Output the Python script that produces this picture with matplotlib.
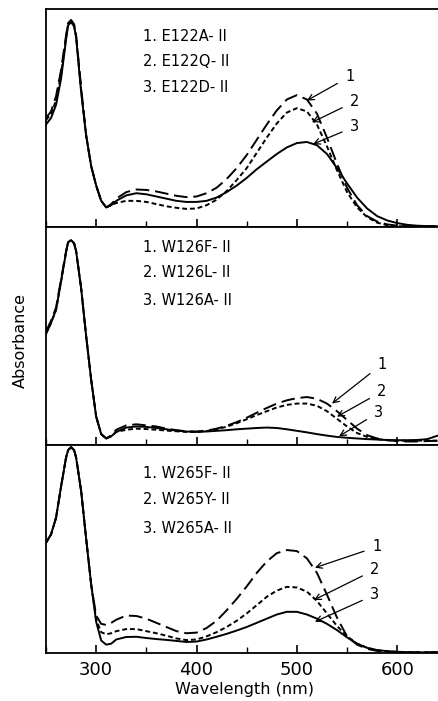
import matplotlib
matplotlib.use("Agg")
import matplotlib.pyplot as plt
from matplotlib.ticker import MultipleLocator

# wavelength grid (nm)
wl = [250, 255, 260, 265, 270, 272, 275, 278, 280, 285, 290, 295, 300, 305, 310, 315, 320,
      330, 340, 350, 360, 370, 380, 390, 400, 410, 420, 430, 440, 450, 460, 470,
      480, 490, 500, 510, 520, 530, 540, 550, 560, 570, 580, 590, 600, 610, 620,
      630, 645]

# panel 1: E122 mutants
e122a = [0.50, 0.53, 0.60, 0.72, 0.88, 0.935, 0.95, 0.93, 0.88, 0.64, 0.42, 0.28, 0.19, 0.12, 0.09, 0.105, 0.13,
         0.16, 0.172, 0.17, 0.163, 0.153, 0.143, 0.137, 0.14, 0.155, 0.18, 0.22, 0.27, 0.33, 0.40, 0.47,
         0.535, 0.585, 0.605, 0.585, 0.52, 0.41, 0.29, 0.18, 0.10, 0.05, 0.025, 0.012, 0.006, 0.004, 0.003,
         0.003, 0.003]
e122q = [0.49, 0.52, 0.58, 0.70, 0.87, 0.93, 0.945, 0.925, 0.875, 0.63, 0.42, 0.28, 0.19, 0.12, 0.09, 0.10, 0.11,
         0.12, 0.12, 0.115, 0.105, 0.095, 0.088, 0.083, 0.085, 0.10, 0.125, 0.165, 0.215, 0.27, 0.34, 0.41,
         0.475, 0.525, 0.545, 0.53, 0.47, 0.37, 0.26, 0.16, 0.09, 0.045, 0.02, 0.008, 0.004, 0.003, 0.003,
         0.003, 0.003]
e122d = [0.47, 0.50, 0.56, 0.68, 0.86, 0.925, 0.94, 0.92, 0.87, 0.62, 0.42, 0.28, 0.19, 0.12, 0.09, 0.10, 0.12,
         0.145, 0.155, 0.15, 0.14, 0.13, 0.12, 0.115, 0.115, 0.12, 0.135, 0.16, 0.19, 0.225, 0.265, 0.30,
         0.335, 0.365, 0.385, 0.39, 0.375, 0.335, 0.27, 0.20, 0.135, 0.085, 0.05, 0.03, 0.018, 0.01, 0.006,
         0.004, 0.003]

# panel 2: W126 mutants
w126f = [0.52, 0.57, 0.63, 0.76, 0.89, 0.93, 0.94, 0.925, 0.89, 0.72, 0.50, 0.30, 0.13, 0.05, 0.03, 0.045, 0.07,
         0.09, 0.095, 0.09, 0.085, 0.075, 0.068, 0.063, 0.062, 0.066, 0.075, 0.088, 0.105, 0.125, 0.148, 0.17,
         0.19, 0.205, 0.215, 0.22, 0.212, 0.19, 0.155, 0.115, 0.075, 0.045, 0.03, 0.022, 0.018, 0.016, 0.016,
         0.018, 0.02]
w126l = [0.51, 0.56, 0.62, 0.75, 0.885, 0.93, 0.94, 0.925, 0.89, 0.72, 0.50, 0.30, 0.13, 0.05, 0.03, 0.04, 0.06,
         0.07, 0.075, 0.073, 0.07, 0.066, 0.063, 0.06, 0.06, 0.064, 0.072, 0.084, 0.10, 0.118, 0.137, 0.155,
         0.172, 0.184, 0.19, 0.19, 0.18, 0.155, 0.12, 0.085, 0.055, 0.037, 0.027, 0.022, 0.02, 0.02, 0.02,
         0.02, 0.02]
w126a = [0.51, 0.56, 0.62, 0.75, 0.885, 0.93, 0.94, 0.925, 0.89, 0.72, 0.50, 0.30, 0.13, 0.05, 0.03, 0.04, 0.06,
         0.08, 0.085, 0.083, 0.078, 0.072, 0.066, 0.062, 0.06, 0.062, 0.065, 0.068, 0.072, 0.075, 0.078, 0.08,
         0.078, 0.072, 0.065, 0.058, 0.05, 0.043, 0.037, 0.033, 0.03, 0.027, 0.025, 0.023, 0.022, 0.022, 0.023,
         0.027, 0.05]

# panel 3: W265 mutants
w265f = [0.53, 0.57, 0.65, 0.80, 0.94, 0.975, 0.99, 0.975, 0.94, 0.78, 0.55, 0.33, 0.18, 0.14, 0.135, 0.145, 0.16,
         0.18, 0.178, 0.165, 0.145, 0.125, 0.105, 0.095, 0.098, 0.12, 0.155, 0.205, 0.26, 0.32, 0.385, 0.44,
         0.48, 0.495, 0.49, 0.455, 0.385, 0.28, 0.17, 0.08, 0.04, 0.02, 0.01, 0.006, 0.004, 0.003, 0.003,
         0.003, 0.003]
w265y = [0.53, 0.57, 0.65, 0.80, 0.94, 0.975, 0.99, 0.975, 0.94, 0.78, 0.55, 0.33, 0.16, 0.10, 0.09, 0.095, 0.105,
         0.115, 0.115, 0.105, 0.095, 0.083, 0.07, 0.062, 0.065, 0.08, 0.10, 0.125, 0.155, 0.19, 0.23, 0.27,
         0.30, 0.318, 0.315, 0.295, 0.25, 0.19, 0.13, 0.08, 0.045, 0.025, 0.013, 0.008, 0.005, 0.004, 0.003,
         0.003, 0.003]
w265a = [0.53, 0.57, 0.65, 0.80, 0.94, 0.975, 0.99, 0.975, 0.94, 0.78, 0.55, 0.33, 0.15, 0.06, 0.04, 0.045, 0.065,
         0.077, 0.078, 0.072, 0.067, 0.063, 0.058, 0.053, 0.055, 0.065, 0.078, 0.092, 0.108, 0.125, 0.145, 0.165,
         0.185, 0.198, 0.198, 0.185, 0.165, 0.14, 0.11, 0.075, 0.045, 0.025, 0.014, 0.009, 0.006, 0.004, 0.003,
         0.003, 0.003]

labels1 = ["1. E122A- II", "2. E122Q- II", "3. E122D- II"]
labels2 = ["1. W126F- II", "2. W126L- II", "3. W126A- II"]
labels3 = ["1. W265F- II", "2. W265Y- II", "3. W265A- II"]

styles = [(0, (7, 3)), (0, (2.5, 1.5)), "-"]

fig = plt.figure(figsize=(4.38, 7.01), dpi=100)
W, H = 438.0, 701.0
left = 46 / W
width = 1.0 - left + 0.01

# (bottom px, height px, series, labels, label y positions, arrow (text xy, tip xy))
panels = [
    (227, 218, [e122a, e122q, e122d], labels1, [0.876, 0.757, 0.638],
     [((548, 0.69), (510, 0.58)), ((553, 0.575), (515, 0.48)), ((553, 0.46), (516, 0.38))]),
    (445, 218, [w126f, w126l, w126a], labels2, [0.904, 0.789, 0.665],
     [((580, 0.37), (535, 0.19)), ((580, 0.245), (540, 0.13)), ((577, 0.15), (542, 0.04))]),
    (653, 208, [w265f, w265y, w265a], labels3, [0.865, 0.736, 0.60],
     [((575, 0.51), (518, 0.41)), ((573, 0.40), (517, 0.255)), ((573, 0.28), (518, 0.15))]),
]

axes = []
for i, (bot, hgt, series, labs, ly, arrows) in enumerate(panels):
    ax = fig.add_axes([left, (H - bot) / H, width, hgt / H])
    for s, ls in zip(series, styles):
        ax.plot(wl, s, color="black", lw=1.4, linestyle=ls)
    ax.set_xlim(250, 645)
    ax.set_ylim(0, 1.0)
    ax.set_yticks([])
    ax.xaxis.set_major_locator(MultipleLocator(100))
    ax.xaxis.set_minor_locator(MultipleLocator(50))
    ax.tick_params(axis="x", which="major", direction="in", length=6, width=1.2, top=False)
    ax.tick_params(axis="x", which="minor", direction="in", length=4, width=1.0, top=False)
    ax.spines["right"].set_visible(False)
    for sp in ["left", "bottom", "top"]:
        ax.spines[sp].set_linewidth(1.3)
    if i < 2:
        ax.tick_params(axis="x", labelbottom=False)
    else:
        ax.tick_params(axis="x", labelsize=13, pad=6)
        ax.set_xlabel("Wavelength (nm)", fontsize=11.5, labelpad=2)
    for lab, y in zip(labs, ly):
        ax.text(0.245, y, lab, transform=ax.transAxes, fontsize=10.5, va="center", ha="left")
    for k, (txy, tip) in enumerate(arrows):
        ax.annotate(str(k + 1), xy=tip, xytext=txy, fontsize=10.5, ha="left", va="center",
                    arrowprops=dict(arrowstyle="->", color="black", lw=0.9, shrinkA=4, shrinkB=0))
    axes.append(ax)

fig.text(20 / W, 1 - 340 / H, "Absorbance", rotation=90, fontsize=11.5, ha="center", va="center")

fig.savefig("out.png", dpi=100)
